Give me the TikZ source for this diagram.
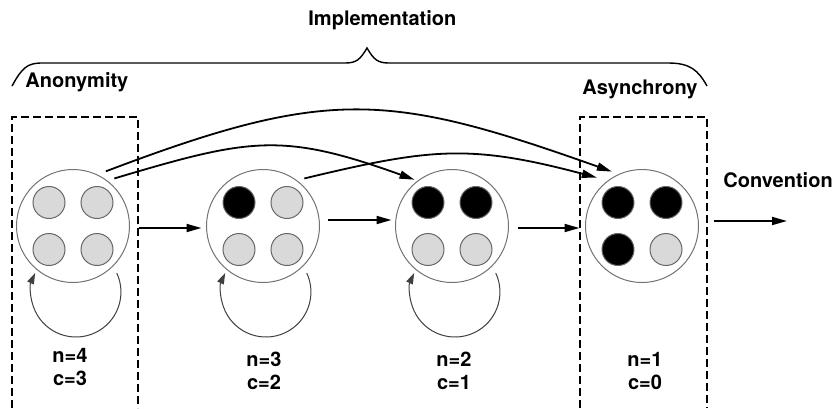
\documentclass[tikz,border=0pt]{standalone}
\usepackage{fontspec}
\setmainfont{TeX Gyre Heros}
\usetikzlibrary{arrows.meta,calc}
\definecolor{tokengrey}{gray}{0.85}

\begin{document}
\begin{tikzpicture}[x=0.5pt,y=-0.5pt,
  font=\fontsize{10}{12}\selectfont\bfseries,
  state/.style={circle,draw=black!55,line width=0.5pt,minimum size=56.5pt,inner sep=0pt},
  token/.style={circle,draw=black!60,line width=0.5pt,minimum size=16pt,inner sep=0pt},
  arr/.style={line width=0.9pt,-{Triangle[length=7.5pt,width=4pt]}},
  selfloop/.style={line width=0.5pt,draw=black!75,-{Triangle[length=5.5pt,width=3.5pt]}},
  region/.style={line width=0.8pt,dash pattern=on 4pt off 2pt},
  lbl/.style={inner sep=0pt,anchor=base west},
  count/.style={inner sep=0pt,anchor=base}]
\useasboundingbox (0,0) rectangle (836,408);

% states with their tokens
\foreach \i/\x/\ta/\tb/\tc/\td in {1/73/tokengrey/tokengrey/tokengrey/tokengrey,
    2/263/black/tokengrey/tokengrey/tokengrey,
    3/452/black/black/tokengrey/tokengrey,
    4/642/black/black/black/tokengrey}
{
  \node[state] (s\i) at (\x,226) {};
  \node[token,fill=\ta] (s\i-a) at ({\x-24},202.5) {};
  \node[token,fill=\tb] (s\i-b) at ({\x+24},202.5) {};
  \node[token,fill=\tc] (s\i-c) at ({\x-24},249.5) {};
  \node[token,fill=\td] (s\i-d) at ({\x+24},249.5) {};
}

% counters
\foreach \i/\x/\y/\nv/\cv in {1/70/362/4/3, 2/264/366/3/2, 3/454/366/2/1, 4/645/366/1/0}
{
  \node[count] (n\i) at (\x,\y) {n=\nv};
  \node[count] (c\i) at (\x,{\y+23.5}) {c=\cv};
}

% dashed regions
\draw[region] (12,408) -- (12,117) -- (138,117) -- (138,408);
\draw[region] (580,408) -- (580,117) -- (707,117) -- (707,408);

% brace
\draw[line width=0.7pt] (12,86) .. controls (22,68) and (27,63) .. (42,63) -- (345,63)
  .. controls (356,63) and (360,60) .. (367,48) .. controls (374,60) and (378,63) .. (389,63)
  -- (668,63) .. controls (690,63) and (698,70) .. (707,86);

\node[lbl] (impl) at (308,25) {Implementation};
\node[lbl] (anon) at (25,87) {Anonymity};
\node[lbl] (async) at (582,94) {Asynchrony};
\node[lbl] (conv) at (723,187) {Convention};
\coordinate (out) at (787,221);

% steps
\path[arr]
  ([yshift=-1pt]s1.east) edge[shorten <=4.25pt,shorten >=2.25pt] ([yshift=-1pt]s2.west)
  ([yshift=3pt]s2.east) edge[shorten <=3.75pt,shorten >=1.75pt] ([yshift=3pt]s3.west)
  ([yshift=-1pt]s3.east) edge[shorten <=4.25pt,shorten >=2.75pt] ([yshift=-1pt]s4.west)
  ([yshift=2.5pt]s4.east) edge[shorten <=7.25pt] (out);

% jumps
\draw[arr] ([shift={(59:3.4pt)}]s1.59) .. controls (328,87) and (388,92) .. ([shift={(119:2.6pt)}]s4.119);
\draw[arr] ([shift={(49:3pt)}]s1.49) .. controls (250,138) and (282,132) .. ([shift={(129:1.3pt)}]s3.129);
\draw[arr] ([shift={(49:3pt)}]s2.49) .. controls (431,148) and (470,144) .. ([shift={(133:4.6pt)}]s4.133);

% self loops
\foreach \i in {1,2,3}
  \draw[selfloop] ([shift={(-47.5:3.6pt)}]s\i.-47.5) arc[start angle=25, end angle=-205, radius=22.5pt];
\end{tikzpicture}
\end{document}
